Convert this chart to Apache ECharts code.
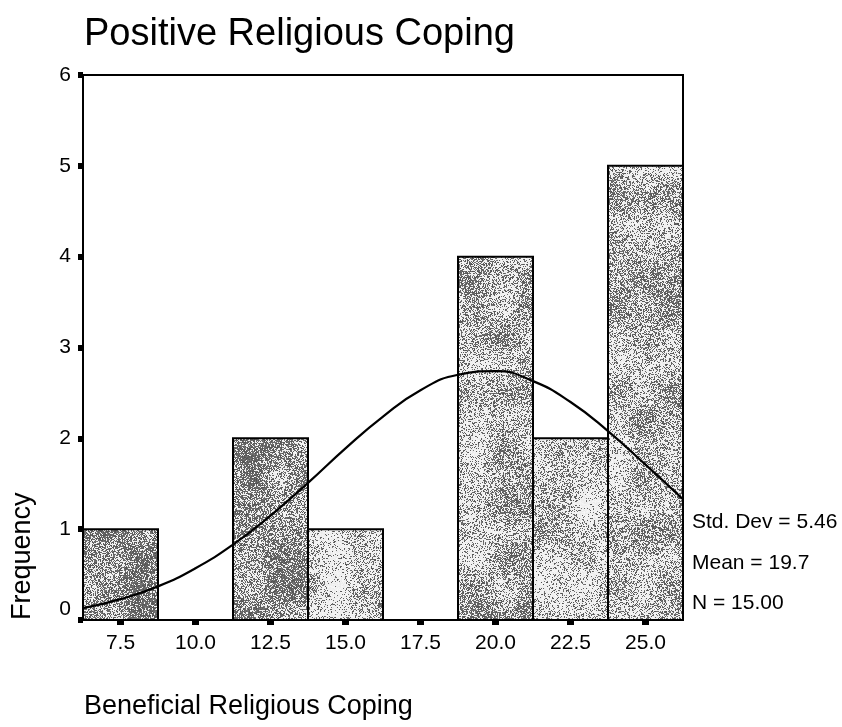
<!DOCTYPE html>
<html><head><meta charset="utf-8">
<script src="https://cdn.jsdelivr.net/npm/echarts@6/dist/echarts.min.js"></script>
<style>html,body{margin:0;padding:0;background:#fff}#c{width:842px;height:727px}</style>
</head><body><div id="c"></div>
<script>
// ---- data ----
const binCenters = [7.5, 10.0, 12.5, 15.0, 17.5, 20.0, 22.5, 25.0];
const frequencies = [1, 0, 2, 1, 0, 4, 2, 5];
const binWidth = 2.5;
const curveX = [6.25, 7.5, 8.75, 10.0, 11.25, 12.5, 13.75, 15.0, 16.25, 17.5, 18.75, 20.0, 21.25, 22.5, 23.75, 25.0, 26.25];
const curveY = [0.13, 0.23, 0.37, 0.57, 0.83, 1.15, 1.51, 1.89, 2.24, 2.53, 2.70, 2.74, 2.63, 2.40, 2.08, 1.71, 1.33];
const xTickValues = [7.5, 10.0, 12.5, 15.0, 17.5, 20.0, 22.5, 25.0];
const yTickValues = [0, 1, 2, 3, 4, 5, 6];
const titleText = 'Positive Religious Coping';
const xAxisTitle = 'Beneficial Religious Coping';
const yAxisTitle = 'Frequency';
const statsLines = ['Std. Dev = 5.46', 'Mean = 19.7', 'N = 15.00'];

// ---- style ----
const FONT = "'Liberation Sans', Arial, sans-serif";
const barTones = [158, 0, 160, 198, 0, 180, 202, 182];
const W = 842, H = 727;

function makeRng(seed) {
  let s = seed >>> 0;
  return () => { s = (Math.imul(s, 1664525) + 1013904223) >>> 0; return s / 4294967296; };
}
function makeTexture(base, seed) {
  const c = document.createElement('canvas');
  c.width = W; c.height = H;
  const ctx = c.getContext('2d');
  const img = ctx.createImageData(W, H);
  const rnd = makeRng(seed);
  const cell = 28;
  const gw = Math.ceil(W / cell) + 2, gh = Math.ceil(H / cell) + 2;
  const grid = [];
  for (let i = 0; i < gw * gh; i++) grid.push(rnd() * 2 - 1);
  const g = (ix, iy) => grid[iy * gw + ix];
  const DARK = 100, LIGHT = 242;
  for (let y = 0; y < H; y++) {
    const fy = y / cell, iy = Math.floor(fy), ty = fy - iy;
    const sy = ty * ty * (3 - 2 * ty);
    for (let x = 0; x < W; x++) {
      const fx = x / cell, ix = Math.floor(fx), tx = fx - ix;
      const sx = tx * tx * (3 - 2 * tx);
      const n = (g(ix, iy) * (1 - sx) + g(ix + 1, iy) * sx) * (1 - sy) + (g(ix, iy + 1) * (1 - sx) + g(ix + 1, iy + 1) * sx) * sy;
      const local = base - n * 36;
      const q = Math.max(0, Math.min(1, (LIGHT - local) / (LIGHT - DARK)));
      const v = rnd() < q ? DARK - 20 + rnd() * 40 : LIGHT - 8 + rnd() * 13;
      const k = (y * W + x) * 4;
      img.data[k] = v; img.data[k + 1] = v; img.data[k + 2] = v; img.data[k + 3] = 255;
    }
  }
  ctx.putImageData(img, 0, 0);
  return { image: c, repeat: 'no-repeat' };
}
const patterns = barTones.map((t, i) => t ? makeTexture(t, 1234 + i * 7777) : null);

const chart = echarts.init(document.getElementById('c'), null, { renderer: 'canvas' });
const option = {
  backgroundColor: '#fff',
  animation: false,
  textStyle: { fontFamily: FONT },
  grid: { left: 83, right: 159, top: 75, bottom: 107, show: true, borderColor: '#000', borderWidth: 2, backgroundColor: 'transparent' },
  xAxis: {
    type: 'value', min: 6.25, max: 26.25,
    axisLine: { show: true, onZero: false, lineStyle: { color: '#000', width: 2 } },
    axisTick: { show: true, customValues: xTickValues, length: 5, lineStyle: { color: '#000', width: 7 } },
    axisLabel: { customValues: xTickValues, formatter: v => v.toFixed(1), color: '#000', fontSize: 21, fontFamily: FONT, margin: 13 },
    splitLine: { show: false }
  },
  yAxis: {
    type: 'value', min: 0, max: 6, interval: 1,
    axisLine: { show: true, lineStyle: { color: '#000', width: 2 } },
    axisTick: { show: true, customValues: yTickValues, length: 5, lineStyle: { color: '#000', width: 6 } },
    axisLabel: {
      customValues: yTickValues, color: '#000', fontSize: 21, fontFamily: FONT, margin: 12,
      formatter: v => v === 0 ? '{z|0}' : String(v),
      rich: { z: { fontSize: 21, fontFamily: FONT, color: '#000', padding: [0, 0, 22, 0] } }
    },
    splitLine: { show: false }
  },
  series: [
    {
      type: 'custom',
      data: binCenters.map((x, i) => [x, frequencies[i]]),
      renderItem: function (params, api) {
        const x = api.value(0), y = api.value(1);
        if (!y) return null;
        const p0 = api.coord([x - binWidth / 2, y]);
        const p1 = api.coord([x + binWidth / 2, 0]);
        return {
          type: 'rect',
          shape: { x: p0[0], y: p0[1], width: p1[0] - p0[0], height: p1[1] - p0[1] },
          style: { fill: patterns[params.dataIndex], stroke: '#000', lineWidth: 2 }
        };
      },
      z: 2
    },
    {
      type: 'line',
      data: curveX.map((x, i) => [x, curveY[i]]),
      smooth: true,
      symbol: 'none',
      lineStyle: { color: '#000', width: 2.2 },
      z: 3
    }
  ],
  graphic: [
    { type: 'text', x: 84, y: 35, style: { text: titleText, font: "38px " + FONT, fill: '#000', textVerticalAlign: 'middle' } },
    { type: 'text', x: 84, y: 707, style: { text: xAxisTitle, font: "27px " + FONT, fill: '#000', textAlign: 'left', textVerticalAlign: 'middle' } },
    { type: 'text', x: 23, y: 620, rotation: Math.PI / 2, style: { text: yAxisTitle, font: "27px " + FONT, fill: '#000', textAlign: 'left', textVerticalAlign: 'middle' } },
    { type: 'text', x: 692, y: 522, style: { text: statsLines[0], font: "21px " + FONT, fill: '#000', textVerticalAlign: 'middle' } },
    { type: 'text', x: 692, y: 563, style: { text: statsLines[1], font: "21px " + FONT, fill: '#000', textVerticalAlign: 'middle' } },
    { type: 'text', x: 692, y: 603, style: { text: statsLines[2], font: "21px " + FONT, fill: '#000', textVerticalAlign: 'middle' } }
  ]
};
chart.setOption(option);
</script>
</body></html>
